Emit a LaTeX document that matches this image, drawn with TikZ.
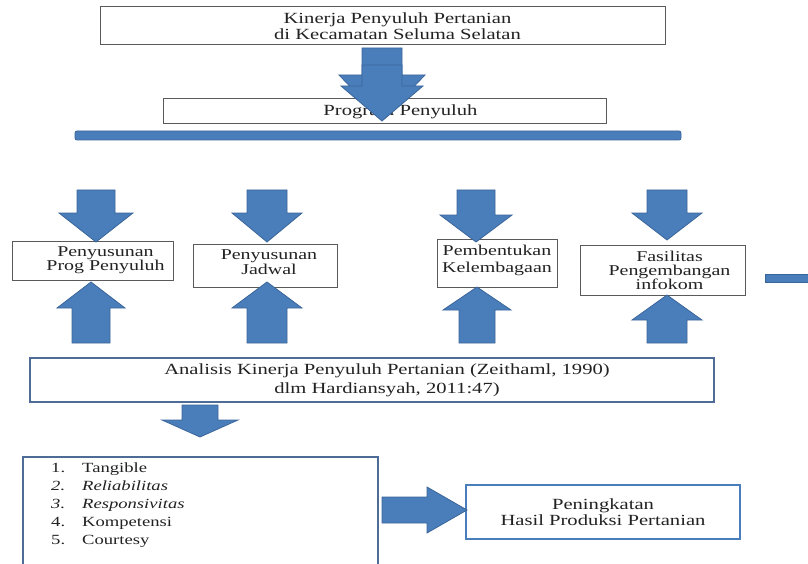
\documentclass[tikz,border=0pt]{standalone}
\usepackage{fontspec}
\setmainfont[FakeStretch=1.33]{Liberation Serif}
\usepackage{tikz}

\definecolor{panahbiru}{HTML}{4A7EBB}
\definecolor{tepibiru}{HTML}{3A6599}
\definecolor{garisabu}{HTML}{5A5A5A}
\definecolor{garisbiru}{HTML}{4E6D96}
\definecolor{teks}{HTML}{222222}

% block arrow, vertical: x, shaft end, head base, tip, shaft half, head half
\newcommand{\panahv}[6]{%
  \draw[blok] (#1-#5,#2) -- (#1+#5,#2) -- (#1+#5,#3) -- (#1+#6,#3) -- (#1,#4)
    -- (#1-#6,#3) -- (#1-#5,#3) -- cycle;}
% block arrow, horizontal: y, shaft end, head base, tip, shaft half, head half
\newcommand{\panahh}[6]{%
  \draw[blok] (#2,#1-#5) -- (#3,#1-#5) -- (#3,#1-#6) -- (#4,#1) -- (#3,#1+#6)
    -- (#3,#1+#5) -- (#2,#1+#5) -- cycle;}

\begin{document}
\begin{tikzpicture}[x=1pt, y=-1pt,
        kotak/.style={draw=garisabu, line width=1pt, fill=white, inner sep=0pt},
        kotakbiru/.style={kotak, draw=garisbiru, line width=1.3pt},
        txt/.style={align=center, inner sep=0pt, text=teks, font=\fontsize{15.5}{16}\selectfont},
        blok/.style={fill=panahbiru, draw=tepibiru, line width=0.8pt, line join=miter}]
    \useasboundingbox (0,0) rectangle (808,564);
    \clip (0,0) rectangle (808,564);

    % top
    \node [kotak, minimum width=565pt, minimum height=38pt] (kinerja) at (382.5,26) {};
    \node [txt] (kinerjaT) at ([xshift=15pt]kinerja.center) {Kinerja Penyuluh Pertanian\\di Kecamatan Seluma Selatan};
    \node [kotak, minimum width=443pt, minimum height=25pt] (program) at (384.5,111.5) {};
    \node [txt] (programT) at ([xshift=16pt]program.center) {Program Penyuluh};
    \panahv{382}{48}{75}{120}{20}{43}
    \panahv{382}{65}{86}{121}{20}{41}
    \draw[blok, rounded corners=2pt] (75,131) rectangle (681,140);

    % four boxes
    \node [kotak, minimum width=161pt, minimum height=39pt] (susun) at (92.5,260.5) {};
    \node [txt, font=\fontsize{15}{14}\selectfont] (susunT) at ([xshift=13pt]susun.center) {Penyusunan\\Prog Penyuluh};
    \node [kotak, minimum width=144pt, minimum height=43pt] (jadwal) at (265,265.5) {};
    \node [txt, font=\fontsize{15}{15}\selectfont] (jadwalT) at ([xshift=4pt,yshift=3pt]jadwal.center) {Penyusunan\\Jadwal};
    \node [kotak, minimum width=120pt, minimum height=48pt] (lembaga) at (497,263) {};
    \node [txt, font=\fontsize{15}{17}\selectfont] (lembagaT) at ([yshift=3pt]lembaga.center) {Pembentukan\\Kelembagaan};
    \node [kotak, minimum width=165pt, minimum height=50pt] (infokom) at (662.5,270) {};
    \node [txt, font=\fontsize{15}{14}\selectfont] (infokomT) at ([xshift=7pt]infokom.center) {Fasilitas\\Pengembangan\\infokom};
    \fill[panahbiru, draw=tepibiru] (765,274) rectangle (810,282);

    \panahv{96}{190}{213}{242}{19}{37}
    \panahv{267}{190}{213}{242}{20}{35}
    \panahv{476}{190}{215}{242}{19}{36}
    \panahv{667}{190}{213}{240}{20}{35}

    \panahv{91}{343}{308}{282}{19}{34}
    \panahv{267}{343}{308}{282}{20}{35}
    \panahv{477}{343}{310}{287}{18}{34}
    \panahv{667}{343}{320}{295}{20}{35}

    % analysis
    \node [kotakbiru, minimum width=684pt, minimum height=44pt] (analisis) at (372,380) {};
    \node [txt, font=\fontsize{15.5}{19}\selectfont] (analisisT) at ([xshift=15pt]analisis.center) {Analisis Kinerja Penyuluh Pertanian (Zeithaml, 1990)\\dlm Hardiansyah, 2011:47)};
    \panahv{200}{405}{420}{437}{18}{38}

    % bottom
    \node [kotakbiru, minimum width=355pt, minimum height=118pt] (dimensi) at (200.5,516) {};
    \node [txt, anchor=north west, font=\fontsize{14}{18}\selectfont] (dimensiT) at (51,459.5) {%
      \begin{tabular}{@{}r@{\hspace{17pt}}l@{}}
        1. & Tangible\\
        \textit{2.} & \textit{Reliabilitas}\\
        \textit{3.} & \textit{Responsivitas}\\
        4. & Kompetensi\\
        5. & Courtesy
      \end{tabular}};
    \node [kotakbiru, draw=panahbiru, minimum width=274pt, minimum height=54pt] (hasil) at (603,512) {};
    \node [txt] (hasilT) at (hasil.center) {Peningkatan\\Hasil Produksi Pertanian};
    \panahh{510}{382}{427}{467}{13}{23}
\end{tikzpicture}
\end{document}
